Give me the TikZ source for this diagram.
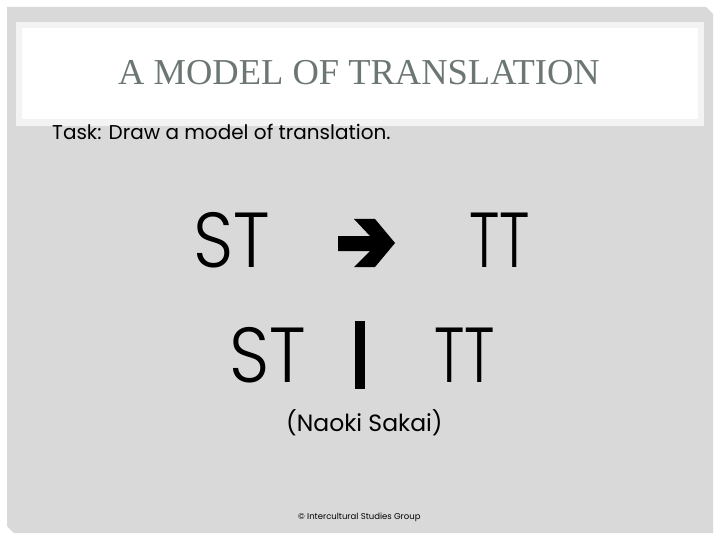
\documentclass[tikz,border=0pt]{standalone}
\usepackage{fontspec}
\setmainfont{Poppins}
\newfontfamily\lightfont{Poppins Light}
\newfontfamily\titlefont{Liberation Serif}
\definecolor{slidegray}{RGB}{217,217,217}
\definecolor{bandgray}{RGB}{243,243,243}
\definecolor{titlegray}{RGB}{108,118,116}
\tikzset{
  plaintext/.style={inner sep=0pt, anchor=base west},
  bigtext/.style={plaintext, font=\lightfont\fontsize{78}{78}\selectfont},
}
\begin{document}
\begin{tikzpicture}[x=1pt, y=-1pt]
    % fix the page to the slide size
    \useasboundingbox (0,0) rectangle (720,540);
    \fill[white] (0,0) rectangle (720,540);
    % draw slide background
    \fill[slidegray] (7,7) -- (706,7) -- (713,14) -- (713,533) -- (14,533) -- (7,526) -- cycle;
    % draw title box
    \fill[bandgray] (16,22) rectangle (704,126);
    \fill[white] (22,28) rectangle (698,119);
    \node[titlegray, font=\titlefont\fontsize{36.5}{36.5}\selectfont, inner sep=0pt, anchor=base] (title) at (359,85) {A MODEL OF TRANSLATION};
    % task line
    \node[plaintext, font=\fontsize{20}{20}\selectfont] (task) at (52,140) {Task: Draw a model of translation.};
    % first model
    \node[bigtext] (st1) at (193,267) {\scalebox{0.9}[1]{ST}};
    \node[bigtext] (tt1) at (469,267) {\scalebox{0.75}[1]{TT}};
    \fill (338,236) -- (370,236) -- (354,219) -- (375,219) -- (395,243) -- (375,267) -- (354,267) -- (370,251) -- (338,251) -- cycle;
    % second model
    \node[bigtext] (st2) at (229,382) {\scalebox{0.9}[1]{ST}};
    \node[bigtext] (tt2) at (434,382) {\scalebox{0.75}[1]{TT}};
    \fill (355,321) rectangle (365,389);
    % source
    \node[plaintext, font=\fontsize{23.5}{23.5}\selectfont] (source) at (286,431) {(Naoki Sakai)};
    \node[plaintext, font=\fontsize{8.5}{8.5}\selectfont] (footer) at (298,519) {© Intercultural Studies Group};
\end{tikzpicture}
\end{document}
